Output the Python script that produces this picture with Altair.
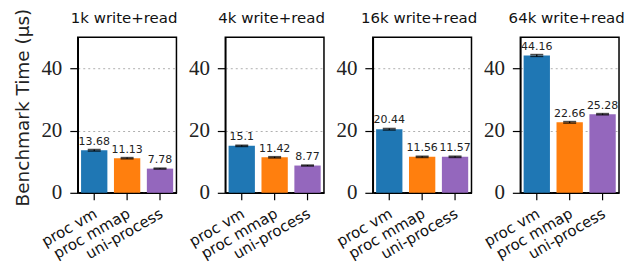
import altair as alt
import pandas as pd

categories = ["proc vm", "proc mmap", "uni-process"]
panels = ["1k write+read", "4k write+read", "16k write+read", "64k write+read"]
values = [
    [13.68, 11.13, 7.78],
    [15.1, 11.42, 8.77],
    [20.44, 11.56, 11.57],
    [44.16, 22.66, 25.28],
]
errors = [
    [0.25, 0.2, 0.15],
    [0.2, 0.2, 0.15],
    [0.25, 0.2, 0.2],
    [0.3, 0.25, 0.2],
]
colors = ["#1f77b4", "#ff7f0e", "#9467bd"]

W, H = 99, 156


def panel(i):
    df = pd.DataFrame({
        "cat": categories,
        "val": values[i],
        "lo": [v - e for v, e in zip(values[i], errors[i])],
        "hi": [v + e for v, e in zip(values[i], errors[i])],
        "label": [f"{v:g}" for v in values[i]],
    })
    yaxis = alt.Axis(
        values=[0, 20, 40], grid=True, gridDash=[2, 3], gridColor="#b0b0b0",
        gridWidth=1, labelFont="Liberation Serif", labelFontSize=21, labelColor="#222",
        tickSize=8, tickColor="black", tickWidth=1.2, labelPadding=8,
        domainColor="black", domainWidth=1.5,
        title="Benchmark Time (μs)" if i == 0 else None,
        titleFont="DejaVu Sans", titleFontSize=18.5, titleFontWeight="normal",
        titleColor="#222", titlePadding=8, titleY=70,
    )
    ysc = alt.Scale(domain=[0, 50], nice=False)
    base = alt.Chart(df).encode(
        x=alt.X("cat:N", sort=categories, title=None,
                scale=alt.Scale(paddingInner=0.2, paddingOuter=0.1),
                axis=alt.Axis(labelAngle=-30, labelAlign="right", labelBaseline="top",
                              labelFont="DejaVu Sans", labelFontSize=15, labelColor="#111",
                              tickSize=7, tickColor="black", tickWidth=1.2,
                              domainColor="black", domainWidth=1.5,
                              labelPadding=6, labelOffset=-2))
    )
    bars = base.mark_bar().encode(
        y=alt.Y("val:Q", scale=ysc, axis=yaxis),
        color=alt.Color("cat:N", scale=alt.Scale(domain=categories, range=colors), legend=None),
    )
    rule = base.mark_rule(color="black", strokeWidth=1.2).encode(y=alt.Y("lo:Q", scale=ysc), y2="hi:Q")
    cap_hi = base.mark_tick(color="black", thickness=1.5, size=13, orient="horizontal").encode(y=alt.Y("hi:Q", scale=ysc))
    cap_lo = base.mark_tick(color="black", thickness=1.5, size=13, orient="horizontal").encode(y=alt.Y("lo:Q", scale=ysc))
    text = base.mark_text(baseline="bottom", dy=-3, font="DejaVu Sans", fontSize=11, color="#222").encode(
        y=alt.Y("hi:Q", scale=ysc), text="label:N")
    title = alt.Chart(pd.DataFrame({"t": [panels[i]]})).mark_text(
        font="DejaVu Sans", fontSize=15, color="#111", baseline="alphabetic", align="center"
    ).encode(text="t:N", x=alt.value(W / 2 - 3), y=alt.value(-14))
    layers = [bars, rule, cap_hi, cap_lo, text, title]
    # invisible layout anchors fixing the outer bounds of the figure
    if i == 0:
        layers.append(alt.Chart(pd.DataFrame({"a": [0]})).mark_rule(strokeOpacity=0).encode(
            x=alt.value(-80), y=alt.value(-40), y2=alt.value(H + 120)))
    if i == 3:
        layers.append(alt.Chart(pd.DataFrame({"a": [0]})).mark_rule(strokeOpacity=0).encode(
            x=alt.value(W + 20), y=alt.value(-40), y2=alt.value(H + 120)))
    return alt.layer(*layers).properties(
        width=W, height=H, view=alt.ViewBackground(stroke="black", strokeWidth=1.5))


chart = alt.hconcat(*[panel(i) for i in range(4)], spacing=49, bounds="flush").configure_view(
    stroke="black", strokeWidth=1.5
).configure(padding={"left": -11, "top": -12, "right": -16, "bottom": -52})

chart.save("out.html", embed_options={"renderer": "svg", "actions": False})
